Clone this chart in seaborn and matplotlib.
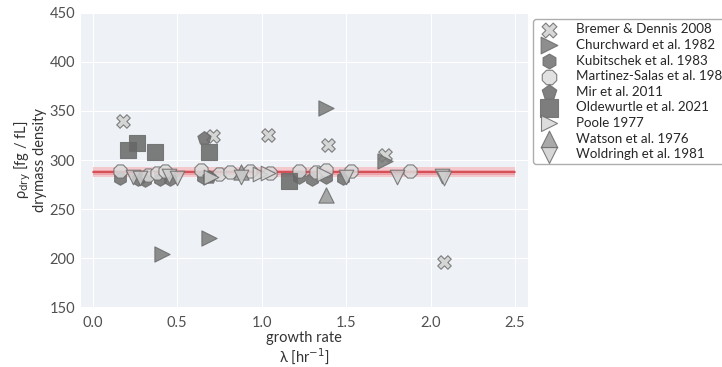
import numpy as np
import pandas as pd
import matplotlib
matplotlib.use("Agg")
import matplotlib.pyplot as plt
import seaborn as sns

sns.set_style("darkgrid", {"axes.facecolor": "#eef1f6", "grid.color": "white",
                           "axes.edgecolor": "white"})
plt.rcParams["font.family"] = ["Lato", "DejaVu Sans"]

# growth rate [1/hr] and drymass density [fg/fL] per source
bremer_lam = [0.18, 0.71, 1.04, 1.39, 1.73, 2.08]
bremer_rho = [340, 324, 325, 315, 305, 196]

churchward_lam = [0.41, 0.69, 0.70, 1.38, 1.73]
churchward_rho = [204, 221, 283, 353, 299]

kubitschek_lam = [0.16, 0.27, 0.31, 0.40, 0.46, 0.65, 1.22, 1.30, 1.38, 1.48]
kubitschek_rho = [282, 281, 280, 281, 281, 283, 283, 281, 283, 282]

martinez_lam = [0.16, 0.33, 0.38, 0.43, 0.64, 0.75, 0.81, 0.93, 1.05, 1.22, 1.32, 1.38, 1.53, 1.88]
martinez_rho = [289, 285, 287, 289, 290, 286, 288, 289, 287, 289, 288, 290, 289, 289]

mir_lam = [0.66, 0.69]
mir_rho = [322, 283]

oldewurtle_lam = [0.21, 0.26, 0.37, 0.69, 1.16]
oldewurtle_rho = [310, 317, 308, 308, 279]

poole_lam = [0.70, 0.99, 1.04, 1.37]
poole_rho = [283, 286, 287, 286]

watson_lam = [0.88, 1.38]
watson_rho = [288, 264]

woldringh_lam = [0.24, 0.28, 0.45, 0.50, 0.88, 1.50, 1.80, 2.07, 2.08]
woldringh_rho = [283, 282, 284, 282, 283, 283, 283, 284, 282]

sources = ["Bremer & Dennis 2008", "Churchward et al. 1982", "Kubitschek et al. 1983",
           "Martinez-Salas et al. 1981", "Mir et al. 2011", "Oldewurtle et al. 2021",
           "Poole 1977", "Watson et al. 1976", "Woldringh et al. 1981"]
lams = [bremer_lam, churchward_lam, kubitschek_lam, martinez_lam, mir_lam,
        oldewurtle_lam, poole_lam, watson_lam, woldringh_lam]
rhos = [bremer_rho, churchward_rho, kubitschek_rho, martinez_rho, mir_rho,
        oldewurtle_rho, poole_rho, watson_rho, woldringh_rho]

markers = ["X", ">", "h", "8", "p", "s", ">", "^", "v"]
colors = ["#d0d0d0", "#7a7a7a", "#6e6e6e", "#dcdcdc", "#6a6a6a", "#666666",
          "#d8d8d8", "#9a9a9a", "#cfcfcf"]
sizes = [95, 120, 95, 105, 100, 140, 110, 120, 110]

# average density and its spread
rho_mean = 287.5
rho_err = 5.0

df = pd.concat([pd.DataFrame({"lam": l, "rho": r, "source": s})
                for s, l, r in zip(sources, lams, rhos)], ignore_index=True)

fig, ax = plt.subplots(figsize=(7.22, 3.67), dpi=100)
fig.subplots_adjust(left=0.112, right=0.731, top=0.965, bottom=0.163)

band_x = np.array([0.0, 2.5])
for k, c in [(1.0, "#f6c0c4"), (0.55, "#ec9aa0")]:
    ax.fill_between(band_x, rho_mean - k * rho_err, rho_mean + k * rho_err,
                    color=c, alpha=0.8, lw=0, zorder=1)
ax.plot(band_x, [rho_mean, rho_mean], color="#d0383f", lw=1.3, alpha=0.85, zorder=2)

for s, m, c, sz in zip(sources, markers, colors, sizes):
    sns.scatterplot(data=df[df["source"] == s], x="lam", y="rho", marker=m,
                    color=c, s=sz, edgecolor="#6b6b6b", linewidth=0.8,
                    alpha=0.85, label=s, ax=ax, zorder=3)

ax.set_xlim(-0.07, 2.575)
ax.set_ylim(150, 450)
ax.set_xticks([0, 0.5, 1.0, 1.5, 2.0, 2.5])
ax.set_xticklabels(["0.0", "0.5", "1.0", "1.5", "2.0", "2.5"])
ax.set_yticks([150, 200, 250, 300, 350, 400, 450])
ax.tick_params(axis="both", labelsize=10.5, labelcolor="#505050", length=0)
ax.tick_params(axis="x", pad=6)
ax.tick_params(axis="y", pad=4)
ax.set_xlabel("growth rate\nλ [hr$^{-1}$]", fontsize=10.5, color="#333333",
              linespacing=1.1, labelpad=1)
ax.set_ylabel("ρ$_{\\rm dry}$ [fg / fL]\ndrymass density", fontsize=10.5,
              color="#333333", linespacing=1.0, labelpad=2)
for sp in ax.spines.values():
    sp.set_visible(False)

leg = ax.legend(loc="upper left", bbox_to_anchor=(1.012, 0.978), fontsize=9.6,
                frameon=True, fancybox=True, edgecolor="#999999",
                labelspacing=0.27, handletextpad=1.1, borderpad=0.3,
                handlelength=1.8, markerscale=1.1, borderaxespad=0)
leg.get_frame().set_facecolor("white")
leg.get_frame().set_linewidth(1.0)

fig.savefig("out.png", dpi=100)
